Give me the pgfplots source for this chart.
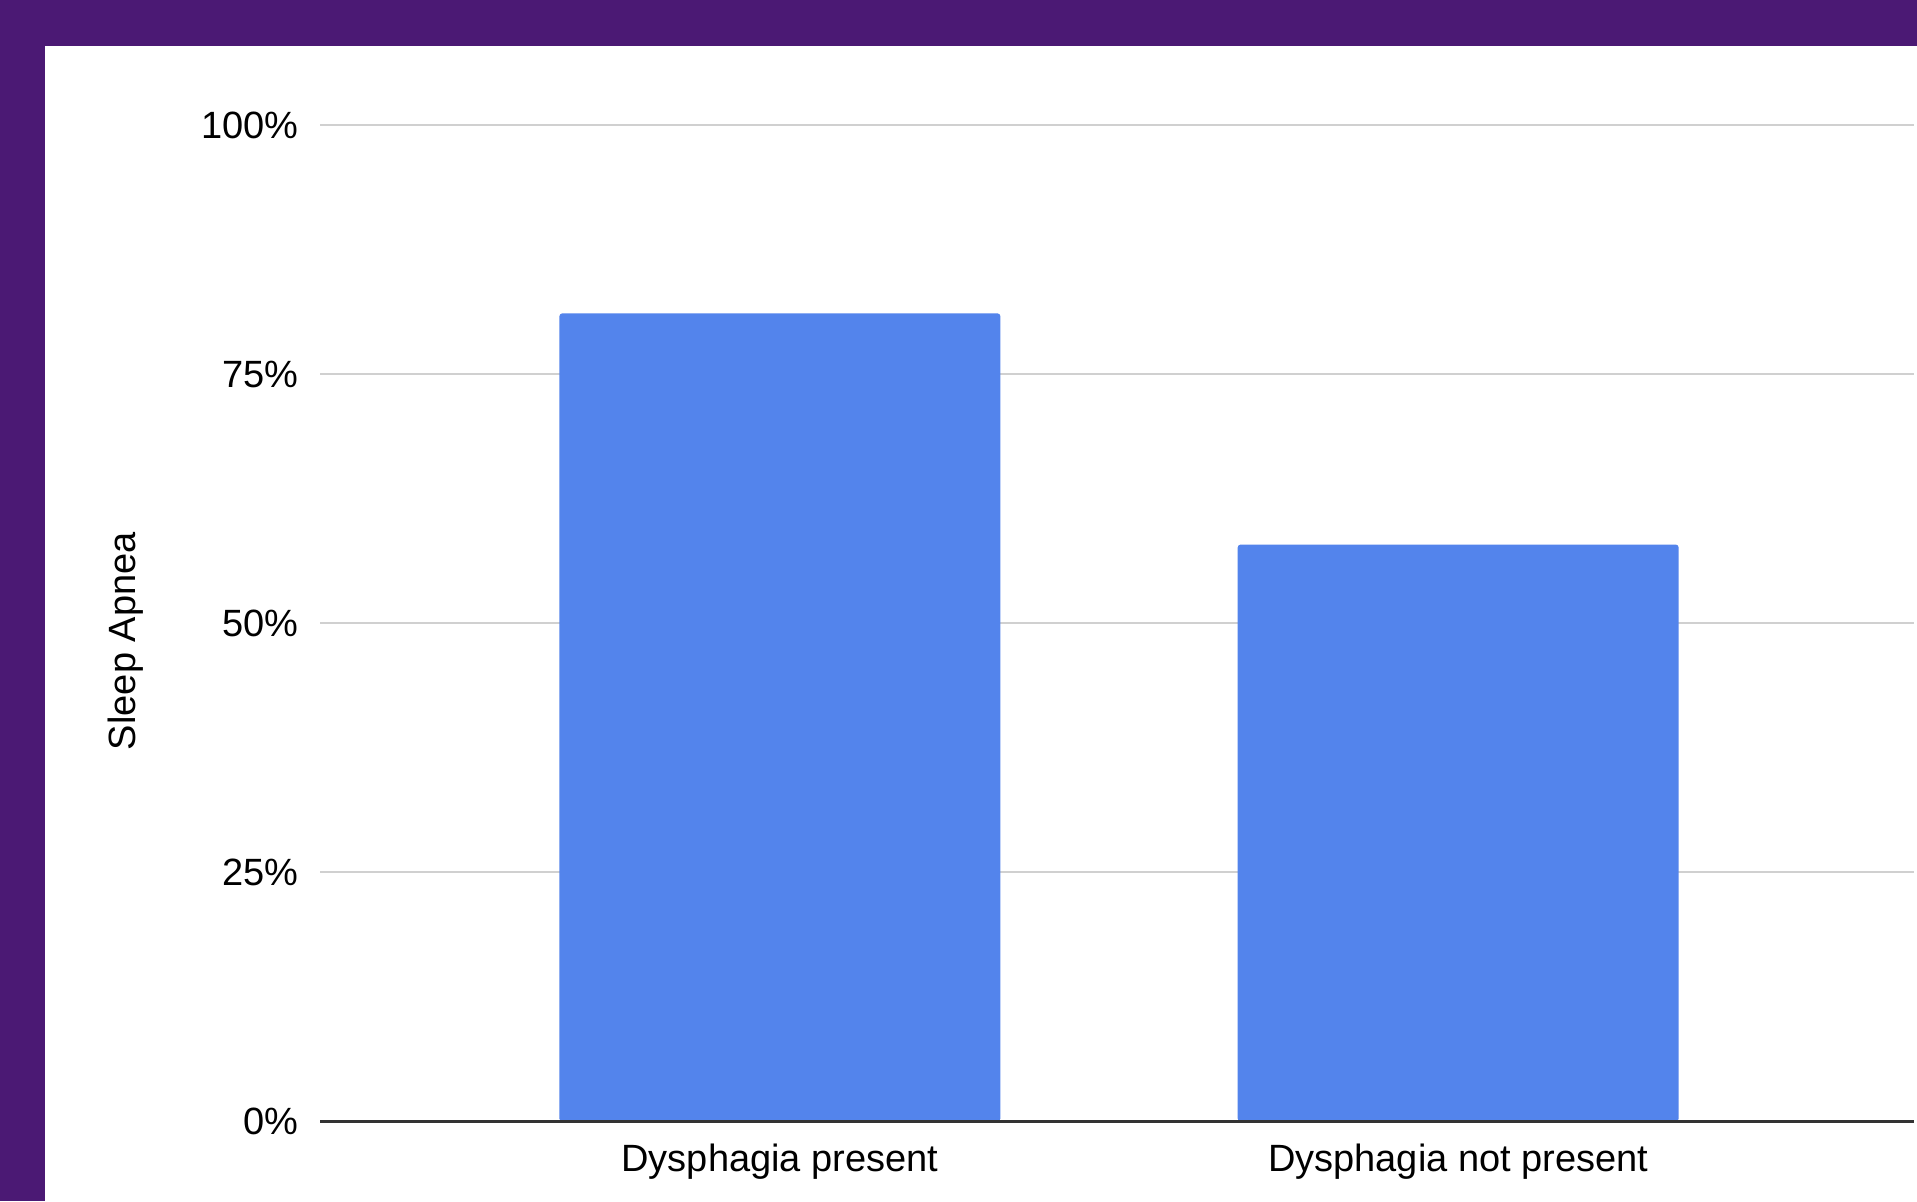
\documentclass[border=0pt]{standalone}
\usepackage{fontspec}
\setmainfont{Liberation Sans}
\usepackage{pgfplots}
\pgfplotsset{compat=1.18}
\definecolor{barblue}{RGB}{83,132,236}
\definecolor{framepurple}{RGB}{75,25,116}
\definecolor{gridgray}{RGB}{208,208,208}
\definecolor{axisdark}{RGB}{51,51,51}
\begin{document}
\begin{tikzpicture}
\useasboundingbox (0pt,0pt) rectangle (958.5pt,600.5pt);
\fill[framepurple] (0pt,0pt) rectangle (958.5pt,600.5pt);
\fill[white] (22.5pt,0pt) rectangle (958.5pt,577.65pt);
\begin{axis}[
  at={(160pt,39.75pt)}, anchor=south west,
  scale only axis, width=797pt, height=498.25pt,
  xmin=-0.678, xmax=1.672, ymin=0, ymax=100,
  ytick={0,25,50,75,100}, yticklabels={0\%,25\%,50\%,75\%,100\%},
  xtick={0,1}, xticklabels={Dysphagia present,Dysphagia not present},
  ymajorgrids, grid style={color=gridgray, line width=1pt},
  axis line style={draw=none}, major tick length=0pt,
  tick label style={font=\fontsize{19}{22}\selectfont},
  yticklabel style={anchor=east, inner sep=0pt, xshift=-10.5pt},
  xticklabel style={anchor=north, inner sep=0pt, yshift=-11pt},
  ylabel={Sleep Apnea},
  ylabel style={at={(axis description cs:-0.1222,0.482)}, anchor=center, font=\fontsize{19}{22}\selectfont},
  clip=false,
]
\addplot[ybar, bar width=220.5pt, fill=barblue, draw=none, rounded corners=1.5pt] coordinates {(0,81.1) (1,57.9)};
\draw[axisdark, line width=1.5pt] (axis cs:-0.678,0) -- (axis cs:1.672,0);
\end{axis}
\end{tikzpicture}
\end{document}
